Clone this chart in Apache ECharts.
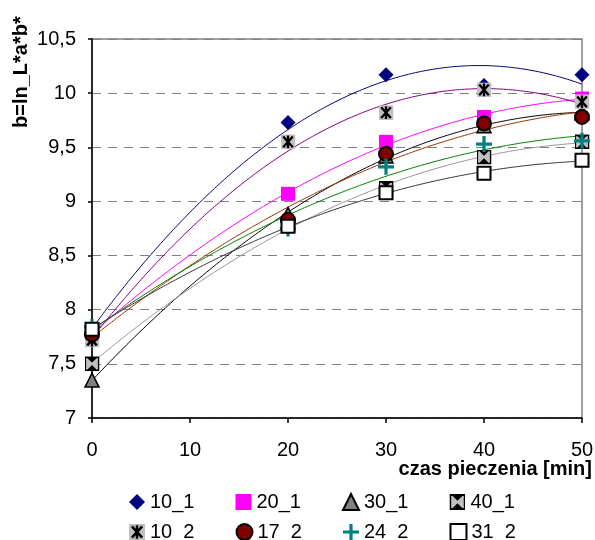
<!DOCTYPE html>
<html>
<head>
<meta charset="utf-8">
<script src="https://cdn.jsdelivr.net/npm/echarts@6/dist/echarts.min.js"></script>
<style>
  html, body { margin: 0; padding: 0; background: #fff; }
  #main { width: 595px; height: 540px; }
</style>
</head>
<body>
<div id="main"></div>
<script>
// czas pieczenia [min]
const times = [0, 20, 30, 40, 50]
const xTicks = [0, 10, 20, 30, 40, 50]
const yTicks = [7, 7.5, 8, 8.5, 9, 9.5, 10, 10.5]

// odczytane wartości b dla każdej serii
const s10_1 = [7.80, 9.73, 10.17, 10.07, 10.17]
const s20_1 = [7.78, 9.07, 9.55, 9.78, 9.95]
const s30_1 = [7.35, 8.88, 9.42, 9.70, 9.82]
const s40_1 = [7.50, 8.78, 9.12, 9.41, 9.55]
const s10_2 = [7.72, 9.55, 9.82, 10.03, 9.92]
const s17_2 = [7.77, 8.83, 9.44, 9.72, 9.78]
const s24_2 = [7.84, 8.75, 9.32, 9.53, 9.56]
const s31_2 = [7.82, 8.77, 9.08, 9.26, 9.38]

const names = ['10_1', '20_1', '30_1', '40_1', '10_2', '17_2', '24_2', '31_2']
const values = [s10_1, s20_1, s30_1, s40_1, s10_2, s17_2, s24_2, s31_2]

function svgIcon(svg) {
  return 'image://data:image/svg+xml;utf8,' + encodeURIComponent(svg)
}

const icon40 = svgIcon(
  '<svg xmlns="http://www.w3.org/2000/svg" width="28" height="28" viewBox="0 0 14 14">' +
  '<rect x="0.75" y="0.75" width="12.5" height="12.5" fill="#c0c0c0" stroke="#000" stroke-width="1.5"/>' +
  '<polygon points="0.75,0.75 13.25,0.75 7,7" fill="#000"/>' +
  '<polygon points="0.75,13.25 13.25,13.25 7,7" fill="#000"/>' +
  '<path d="M2,2 L12,12 M12,2 L2,12" stroke="#c0c0c0" stroke-width="1.6"/></svg>'
)
const icon10_2 = svgIcon(
  '<svg xmlns="http://www.w3.org/2000/svg" width="28" height="28" viewBox="0 0 14 14">' +
  '<rect x="0" y="0" width="14" height="14" fill="#c0c0c0"/>' +
  '<path d="M2.5,2 L11.5,12 M11.5,2 L2.5,12 M7,1 L7,13" stroke="#000" stroke-width="2.2"/></svg>'
)
const plusPath = 'path://M4,0H6V4H10V6H6V10H4V6H0V4H4Z'

const markers = {
  '10_1': { symbol: 'diamond', size: 15, color: '#000080' },
  '20_1': { symbol: 'rect', size: 14, color: '#ff00ff' },
  '30_1': { symbol: 'triangle', size: 14, color: '#808080', border: '#000', bw: 1.5 },
  '40_1': { symbol: icon40, size: 15, color: '#c0c0c0' },
  '10_2': { symbol: icon10_2, size: 15, color: '#c0c0c0' },
  '17_2': { symbol: 'circle', size: 14, color: '#800000', border: '#000', bw: 2 },
  '24_2': { symbol: plusPath, size: 16, color: '#008080' },
  '31_2': { symbol: 'rect', size: 13, color: '#ffffff', border: '#000', bw: 2 },
}
const lineColors = {
  '10_1': '#000080', '20_1': '#ff00ff', '30_1': '#000000', '40_1': '#969696',
  '10_2': '#800080', '17_2': '#993300', '24_2': '#008000', '31_2': '#333333',
}

// linia trendu wielomianowa (2 stopnia), jak w arkuszu
function polyFit(xs, ys) {
  let S = [0, 0, 0, 0, 0], T = [0, 0, 0]
  xs.forEach((x, i) => {
    for (let k = 0; k < 5; k++) S[k] += Math.pow(x, k)
    for (let k = 0; k < 3; k++) T[k] += Math.pow(x, k) * ys[i]
  })
  const A = [
    [S[0], S[1], S[2], T[0]],
    [S[1], S[2], S[3], T[1]],
    [S[2], S[3], S[4], T[2]],
  ]
  for (let i = 0; i < 3; i++) {
    for (let j = i + 1; j < 3; j++) {
      const f = A[j][i] / A[i][i]
      for (let k = i; k < 4; k++) A[j][k] -= f * A[i][k]
    }
  }
  const c = [0, 0, 0]
  for (let i = 2; i >= 0; i--) {
    let s = A[i][3]
    for (let k = i + 1; k < 3; k++) s -= A[i][k] * c[k]
    c[i] = s / A[i][i]
  }
  return c
}

function trend(ys) {
  const c = polyFit(times, ys)
  const pts = []
  for (let x = 0; x <= 50; x += 1) pts.push([x, c[0] + c[1] * x + c[2] * x * x])
  return pts
}

const lineSeries = names.map((n, i) => ({
  type: 'line',
  data: trend(values[i]),
  showSymbol: false,
  smooth: true,
  silent: true,
  lineStyle: { width: 1, color: lineColors[n] },
  z: 2,
}))

const pointSeries = names.map((n, i) => {
  const m = markers[n]
  return {
    name: n,
    type: 'scatter',
    data: times.map((t, j) => [t, values[i][j]]),
    symbol: m.symbol,
    symbolSize: m.size,
    itemStyle: {
      color: m.color,
      borderColor: m.border || m.color,
      borderWidth: m.bw || 0,
      opacity: 1,
    },
    z: 3,
  }
})

const font = 'Arial, Liberation Sans'
const legendText = { fontFamily: font, fontSize: 20, color: '#000' }

let myChart = echarts.init(document.getElementById('main'))
let option = {
  animation: false,
  backgroundColor: '#fff',
  grid: {
    left: 92,
    right: 13,
    top: 39,
    bottom: 122,
    outerBoundsMode: 'none',
    containLabel: false,
    show: true,
    borderColor: '#808080',
    borderWidth: 1.5,
  },
  xAxis: {
    type: 'value',
    min: 0,
    max: 50,
    interval: 10,
    axisLine: { onZero: false, lineStyle: { color: '#000', width: 1.5 } },
    axisTick: { show: true, length: 5, inside: false, lineStyle: { color: '#000', width: 1.5 } },
    axisLabel: {
      margin: 22,
      fontFamily: font,
      fontSize: 20,
      color: '#000',
      formatter: (v) => (xTicks.includes(v) ? String(v) : ''),
    },
    splitLine: { show: false },
  },
  yAxis: {
    type: 'value',
    min: 7,
    max: 10.5,
    interval: 0.5,
    axisLine: { show: true, onZero: false, lineStyle: { color: '#000', width: 1.5 } },
    axisTick: { show: true, length: 4, lineStyle: { color: '#000', width: 1.5 } },
    axisLabel: {
      margin: 16,
      fontFamily: font,
      fontSize: 20,
      color: '#000',
      formatter: (v) => (yTicks.includes(v) ? String(v).replace('.', ',') : ''),
    },
    splitLine: { show: true, lineStyle: { color: '#808080', type: [9, 7], width: 1 } },
  },
  graphic: [
    {
      type: 'text',
      x: 11,
      y: 128,
      rotation: Math.PI / 2,
      style: {
        text: 'b=ln_L*a*b*',
        fontFamily: font,
        fontSize: 20,
        fontWeight: 'bold',
        fill: '#000',
        align: 'left',
        verticalAlign: 'top',
      },
    },
    {
      type: 'text',
      x: 592,
      y: 469,
      style: {
        text: 'czas pieczenia [min]',
        fontFamily: font,
        fontSize: 20,
        fontWeight: 'bold',
        fill: '#000',
        align: 'right',
        verticalAlign: 'middle',
      },
    },
  ],
  legend: [
    {
      data: [
        { name: '10_1' }, { name: '20_1' }, { name: '30_1' }, { name: '40_1', icon: icon40 },
      ],
      left: 124,
      top: 487,
      itemWidth: 16,
      itemHeight: 16,
      itemGap: 41,
      textStyle: legendText,
    },
    {
      data: [
        { name: '10_2', icon: icon10_2 }, { name: '17_2' }, { name: '24_2' }, { name: '31_2' },
      ],
      left: 124,
      top: 517,
      itemWidth: 16,
      itemHeight: 16,
      itemGap: 41,
      textStyle: legendText,
    },
  ],
  series: [...lineSeries, ...pointSeries],
}
myChart.setOption(option)
</script>
</body>
</html>
